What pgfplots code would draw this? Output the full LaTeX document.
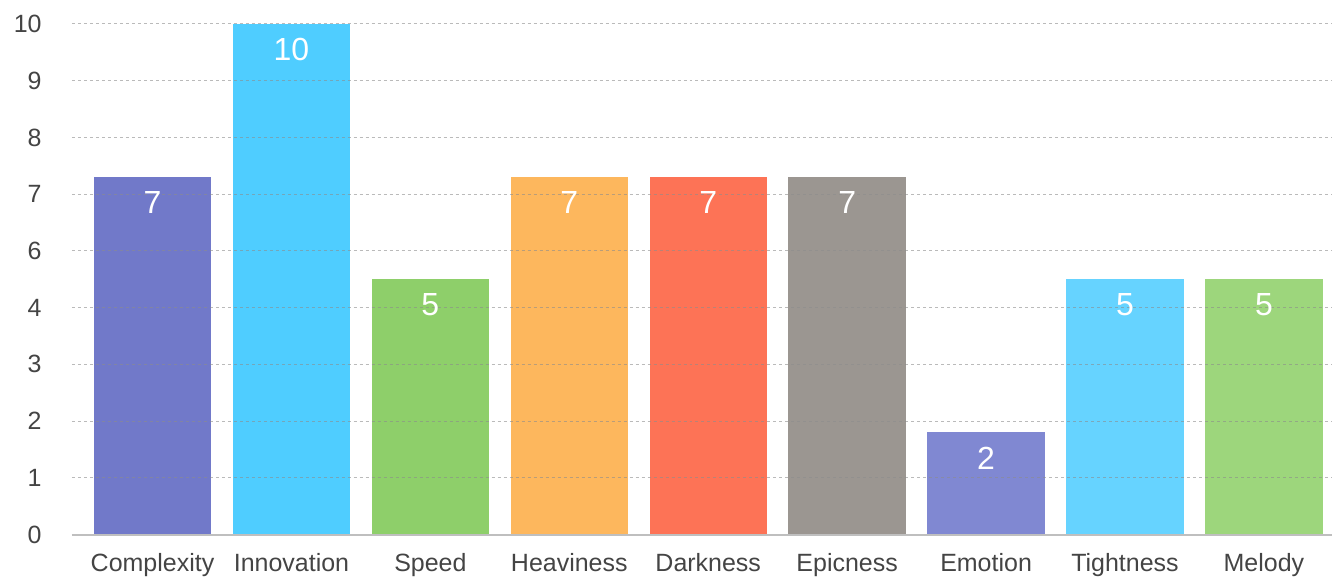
\documentclass[border=0pt]{standalone}
\usepackage{pgfplots}
\pgfplotsset{compat=1.18}
\usepackage{fontspec}
\setmainfont{Liberation Sans}
\definecolor{c1}{HTML}{7179C9}
\definecolor{c2}{HTML}{4FCDFF}
\definecolor{c3}{HTML}{8ECF6A}
\definecolor{c4}{HTML}{FDB75D}
\definecolor{c5}{HTML}{FD7356}
\definecolor{c6}{HTML}{9B9691}
\definecolor{c7}{HTML}{8088D2}
\definecolor{c8}{HTML}{66D3FF}
\definecolor{c9}{HTML}{9DD67C}
\definecolor{txt}{HTML}{444444}
\begin{document}
\begin{tikzpicture}
\begin{axis}[
  scale only axis, width=630.5pt, height=255.5pt,
  xmin=-0.58, xmax=8.49, ymin=0, ymax=10,
  ybar, bar width=0.845, bar shift=0pt,
  axis x line*=bottom, axis y line*=left,
  y axis line style={draw=none},
  x axis line style={draw=black!25, line width=1pt},
  xtick style={draw=none}, ytick style={draw=none},
  xtick={0,...,8},
  xticklabels={Complexity,Innovation,Speed,Heaviness,Darkness,Epicness,Emotion,Tightness,Melody},
  ytick={0,1.1111,2.2222,3.3333,4.4444,5.5556,6.6667,7.7778,8.8889,10},
  yticklabels={0,1,2,3,4,6,7,8,9,10},
  /pgf/number format/assume math mode=true,
  xticklabel style={font=\fontsize{12.5}{14}\selectfont, text=txt, anchor=north, inner sep=0pt, yshift=-5pt},
  yticklabel style={font=\fontsize{12.5}{14}\selectfont, text=txt, anchor=east, inner sep=0pt, xshift=-15pt},
  ymajorgrids, grid style={black!45, dash pattern=on 1.5pt off 1.5pt, line width=0.5pt, opacity=0.6},
  axis on top,
  nodes near coords,
  every node near coord/.append style={text=white, font=\fontsize{16}{16}\selectfont, anchor=north, inner sep=0pt, yshift=-7pt},
  clip=false,
]
\addplot[fill=c1, draw=none] coordinates {(0,7)};
\addplot[fill=c2, draw=none] coordinates {(1,10)};
\addplot[fill=c3, draw=none] coordinates {(2,5)};
\addplot[fill=c4, draw=none] coordinates {(3,7)};
\addplot[fill=c5, draw=none] coordinates {(4,7)};
\addplot[fill=c6, draw=none] coordinates {(5,7)};
\addplot[fill=c7, draw=none] coordinates {(6,2)};
\addplot[fill=c8, draw=none] coordinates {(7,5)};
\addplot[fill=c9, draw=none] coordinates {(8,5)};
\coordinate (A) at (rel axis cs:0,0);
\coordinate (B) at (rel axis cs:1,1);
\end{axis}
\path ([xshift=-36pt,yshift=-21pt]A) rectangle ([yshift=12pt]B);
\end{tikzpicture}
\end{document}
